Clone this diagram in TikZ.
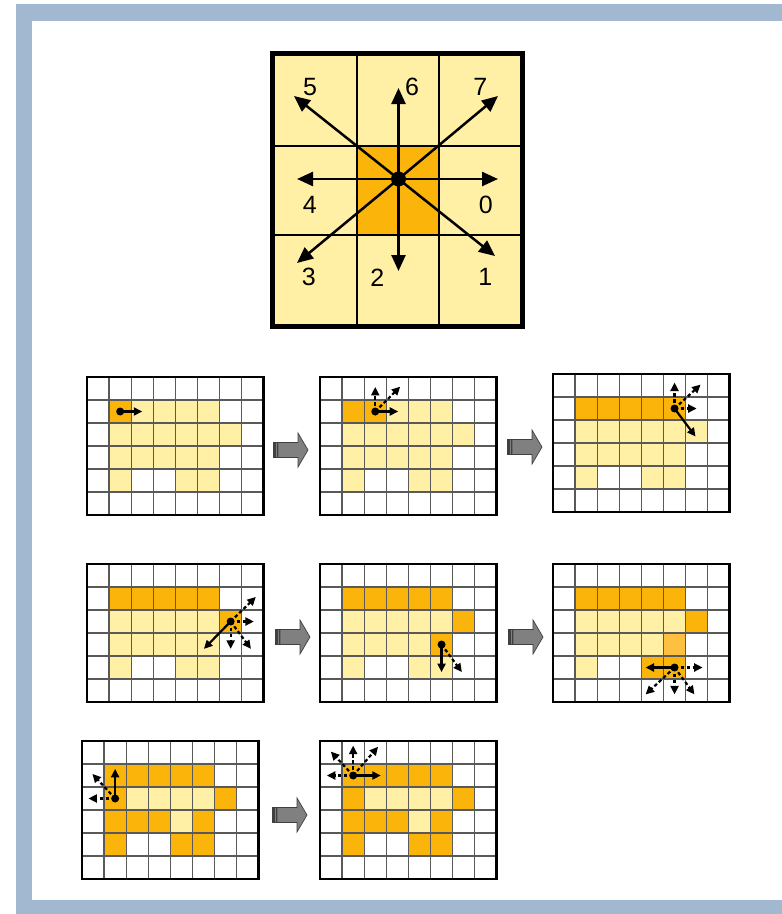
\documentclass[tikz,border=0pt]{standalone}
\usepackage{fontspec}
\setmainfont{Liberation Sans}
\usetikzlibrary{arrows.meta}
\definecolor{frameblue}{HTML}{A2B8D0}
\definecolor{yelc}{HTML}{FFF0A5}
\definecolor{orac}{HTML}{FAB40A}
\definecolor{oral}{HTML}{FDC040}
\definecolor{blockgray}{HTML}{808080}
\tikzset{
  bigarrow/.style={line width=2.5pt,-{Triangle[length=16pt,width=14pt]}},
  movesolid/.style={line width=2.2pt,-{Triangle[length=8.5pt,width=8pt]}},
  movedash/.style={line width=2.2pt,dash pattern=on 3.5pt off 2.5pt,-{Triangle[length=8.5pt,width=8pt]}},
  gridat/.style 2 args={shift={(#1,#2)},x=22.1pt,y=-23pt},
  innerline/.style={draw=black!65,line width=1.4pt},
  outerline/.style={draw=black,line width=2.8pt},
  blockst/.style={fill=blockgray,draw=black!75,line width=0.7pt},
  digit/.style={inner sep=0pt,font=\fontsize{25}{25}\selectfont},
}
\newcommand\gridbase[2]{%
  \fill[white] (0,0) rectangle (8,6);
  \edef\ylist{#1}%
  \edef\olist{#2}%
  \foreach \c/\r in \ylist \fill[yelc] (\c,\r) rectangle ++(1,1);
  \foreach \c/\r in \olist \fill[orac] (\c,\r) rectangle ++(1,1);
}
\newcommand\gridlines{%
  \foreach \i in {1,...,7} \draw[innerline] (\i,0) -- (\i,6);
  \foreach \j in {1,...,5} \draw[innerline] (0,\j) -- (8,\j);
  \draw[outerline] (0,0) rectangle (8,6);
}
\newcommand\blockarr[2]{%
  \begin{scope}[shift={(#1,#2)}]
    \filldraw[blockst] (0,-7.5) rectangle (1.5,7.5);
    \filldraw[blockst] (2.5,-7.5) rectangle (4,7.5);
    \filldraw[blockst] (5,-7.5) -- (25,-7.5) -- (25,-17) -- (35,0) -- (25,17) -- (25,7.5) -- (5,7.5) -- cycle;
  \end{scope}}
\def\basepat{1/1,2/1,3/1,4/1,5/1,1/2,2/2,3/2,4/2,5/2,6/2,1/3,2/3,3/3,4/3,5/3,1/4,4/4,5/4}
\def\toprow{1/1,2/1,3/1,4/1,5/1}
\begin{document}
\begin{tikzpicture}[x=1pt,y=-1pt]
\useasboundingbox (0,0) rectangle (782,914);
% frame
\fill[frameblue] (16,4) rectangle (782,914);
\fill[white] (32,21) rectangle (782,900);

% ---------- big direction grid ----------
\fill[yelc] (272.5,53.5) rectangle (522.5,326.5);
\fill[orac] (357,146) rectangle (439,235);
\draw[line width=2.2pt] (357,53.5) -- (357,326.5) (439,53.5) -- (439,326.5)
  (272.5,146) -- (522.5,146) (272.5,235) -- (522.5,235);
\draw[line width=5pt] (272.5,53.5) rectangle (522.5,326.5);
\coordinate (C) at (398.5,179);
\coordinate (d0) at (498,179);
\coordinate (d1) at (495,256);
\coordinate (d2) at (398.5,271);
\coordinate (d3) at (297,263);
\coordinate (d4) at (297,179);
\coordinate (d5) at (294,96);
\coordinate (d6) at (398.5,88);
\coordinate (d7) at (498,96);
\foreach \k in {0,...,7} \draw[bigarrow] (C) -- (d\k);
\fill (C) circle (7.5pt);
\node[digit] (n5) at (310,86.7) {5};
\node[digit] (n6) at (412,86.7) {6};
\node[digit] (n7) at (480.3,86.7) {7};
\node[digit] (n4) at (309.7,205.3) {4};
\node[digit] (n0) at (485.7,205.3) {0};
\node[digit] (n3) at (308.7,277.3) {3};
\node[digit] (n2) at (377.3,277.3) {2};
\node[digit] (n1) at (485.3,277.3) {1};

% ---------- G1 ----------
\begin{scope}[gridat={87}{377}]
  \gridbase{\basepat}{1/1}
  \gridlines
  \coordinate (g1) at (1.5,1.5);
  \draw[movesolid] (g1) -- ++(1,0);
  \fill (g1) circle (4pt);
\end{scope}
\blockarr{273}{450}
% ---------- G2 ----------
\begin{scope}[gridat={320}{377}]
  \gridbase{\basepat}{1/1,2/1}
  \gridlines
  \coordinate (g2) at (2.5,1.5);
  \draw[movedash] (g2) -- ++(0,-1.07);
  \draw[movedash] (g2) -- ++(1.13,-1.08);
  \draw[movesolid] (g2) -- ++(1.04,0);
  \fill (g2) circle (4pt);
\end{scope}
\blockarr{507}{447}
% ---------- G3 ----------
\begin{scope}[gridat={553}{374}]
  \gridbase{\basepat}{\toprow}
  \gridlines
  \coordinate (g3) at (5.5,1.5);
  \draw[movedash] (g3) -- ++(0,-1.13);
  \draw[movedash] (g3) -- ++(1.18,-1.04);
  \draw[movedash] (g3) -- ++(1.0,0);
  \draw[movesolid] (g3) -- ++(0.95,1.22);
  \fill (g3) circle (4pt);
\end{scope}
% ---------- G4 ----------
\begin{scope}[gridat={87}{564}]
  \gridbase{\basepat}{\toprow,6/2}
  \gridlines
  \coordinate (g4) at (6.5,2.5);
  \draw[movedash] (g4) -- ++(1.14,-1.07);
  \draw[movedash] (g4) -- ++(1.05,0);
  \draw[movedash] (g4) -- ++(0,1.19);
  \draw[movedash] (g4) -- ++(0.92,1.19);
  \draw[movesolid] (g4) -- ++(-1.21,1.19);
  \fill (g4) circle (4pt);
\end{scope}
\blockarr{275}{637}
% ---------- G5 ----------
\begin{scope}[gridat={320}{564}]
  \gridbase{\basepat}{\toprow,6/2,5/3}
  \gridlines
  \coordinate (g5) at (5.5,3.5);
  \draw[movesolid] (g5) -- ++(0,1.2);
  \draw[movedash] (g5) -- ++(0.92,1.2);
  \fill (g5) circle (4pt);
\end{scope}
\blockarr{508}{637}
% ---------- G6 ----------
\begin{scope}[gridat={553}{564}]
  \gridbase{\basepat}{\toprow,6/2,4/4,5/4}
  \fill[oral] (5,3) rectangle ++(1,1);
  \gridlines
  \coordinate (g6) at (5.5,4.5);
  \draw[movesolid] (g6) -- ++(-1.31,0);
  \draw[movedash] (g6) -- ++(1.27,0);
  \draw[movedash] (g6) -- ++(-1.31,1.17);
  \draw[movedash] (g6) -- ++(0,1.17);
  \draw[movedash] (g6) -- ++(0.9,1.17);
  \fill (g6) circle (4pt);
\end{scope}
% ---------- G7 ----------
\begin{scope}[gridat={82}{741}]
  \gridbase{\basepat}{\toprow,1/2,6/2,1/3,2/3,3/3,5/3,1/4,4/4,5/4}
  \gridlines
  \coordinate (g7) at (1.5,2.5);
  \draw[movesolid] (g7) -- ++(0,-1.29);
  \draw[movedash] (g7) -- ++(-1.03,-1.07);
  \draw[movedash] (g7) -- ++(-1.21,0);
  \fill (g7) circle (4pt);
\end{scope}
\blockarr{272}{815}
% ---------- G8 ----------
\begin{scope}[gridat={320}{741}]
  \gridbase{\basepat}{\toprow,1/2,6/2,1/3,2/3,3/3,5/3,1/4,4/4,5/4}
  \gridlines
  \coordinate (g8) at (1.5,1.5);
  \draw[movesolid] (g8) -- ++(1.25,0);
  \draw[movedash] (g8) -- ++(-1.19,0);
  \draw[movedash] (g8) -- ++(-1.01,-1.04);
  \draw[movedash] (g8) -- ++(0,-1.3);
  \draw[movedash] (g8) -- ++(1.13,-1.25);
  \fill (g8) circle (4pt);
\end{scope}
\end{tikzpicture}
\end{document}
